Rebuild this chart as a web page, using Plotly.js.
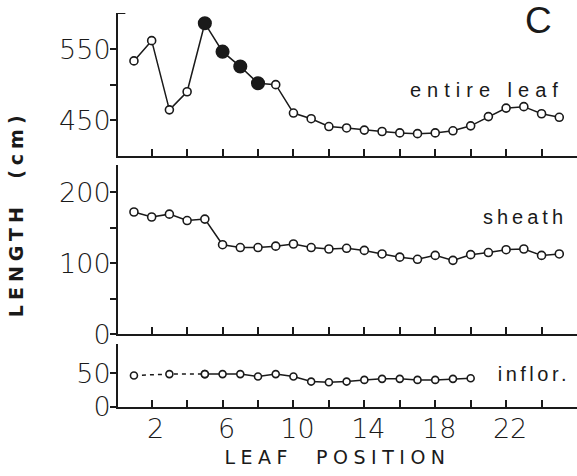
<!DOCTYPE html>
<html>
<head>
<meta charset="utf-8">
<script src="https://cdn.plot.ly/plotly-3.0.1.min.js"></script>
<style>
html,body{margin:0;padding:0;background:#fff;}
#chart{width:577px;height:476px;}
</style>
</head>
<body>
<div id="chart"></div>
<script>
// ---- data ----
const leafPosition = [1,2,3,4,5,6,7,8,9,10,11,12,13,14,15,16,17,18,19,20,21,22,23,24,25];
const entireLeaf = [533.5,562,464.5,490,586.5,546.5,525.5,502,500,460,452,441,439,436,434,432,431,432,435,442,455,467,469,459,454];
const filledPositions = [5,6,7,8];
const sheath = [172,165,169,160,162,126,122,122,124,127,122,120,121,118,113,108.5,105.5,111,104,112,115,119,120,111,113];
const inflorPosition = [1,3,5,6,7,8,9,10,11,12,13,14,15,16,17,18,19,20];
const inflor = [46.5,48.5,48.5,48.5,48.5,45,48.5,45,37.5,36.5,37.5,40,41.5,41.5,40,40,41.5,42.5];
const inflorDashedUntil = 5;
const xTickVals = [2,4,6,8,10,12,14,16,18,20,22,24];
const xTickText = ['2','','6','','10','','14','','18','','22',''];
const topTickVals = [450,500,550];
const topTickText = ['450','','550'];
const midTickVals = [0,50,100,150,200];
const midTickText = ['0','','100','','200'];
const botTickVals = [0,50];
const botTickText = ['0','50'];
const panelLabels = ['entire leaf','sheath','inflor.'];
const panelLetter = 'C';
const yTitle = 'LENGTH  (cm)';
const xTitle = 'LEAF  POSITION';

// ---- styling ----
const ink = '#1a1a1a';
const openMarker = {symbol:'circle', size:8, color:'#fff', opacity:1, line:{color:ink, width:1.6}};
const leafColors = leafPosition.map(p => filledPositions.includes(p) ? ink : '#fff');
const leafSizes = leafPosition.map(p => filledPositions.includes(p) ? 12.5 : 8);

const dashIdx = inflorPosition.indexOf(inflorDashedUntil);

const traces = [
  {x: leafPosition, y: entireLeaf, xaxis:'x3', yaxis:'y', mode:'lines+markers',
   line:{color:ink, width:1.5},
   marker:{symbol:'circle', size:leafSizes, color:leafColors, opacity:1, line:{color:ink, width:1.6}}},
  {x: leafPosition, y: sheath, xaxis:'x2', yaxis:'y2', mode:'lines+markers',
   line:{color:ink, width:1.5}, marker:openMarker},
  {x: inflorPosition.slice(0, dashIdx+1), y: inflor.slice(0, dashIdx+1), xaxis:'x', yaxis:'y3', mode:'lines+markers',
   line:{color:ink, width:1.5, dash:'4px,4px'}, marker:Object.assign({}, openMarker, {size:7})},
  {x: inflorPosition.slice(dashIdx), y: inflor.slice(dashIdx), xaxis:'x', yaxis:'y3', mode:'lines+markers',
   line:{color:ink, width:1.5}, marker:Object.assign({}, openMarker, {size:7})}
];

const tickFont = {family:'DejaVu Sans', size:27, color:ink, weight:300};
const xBase = {range:[0.1,26], tickvals:xTickVals, ticks:'inside', ticklen:7, tickwidth:2, tickcolor:ink,
  showline:true, linecolor:ink, linewidth:2, showgrid:false, zeroline:false, fixedrange:true};
const yBase = {ticks:'outside', ticklen:6, tickwidth:2, tickcolor:ink, showline:true, linecolor:ink, linewidth:2,
  showgrid:false, zeroline:false, tickfont:tickFont, fixedrange:true};

const labelFont = {family:'Liberation Sans', size:20, color:ink};

const layout = {
  width:577, height:476, showlegend:false,
  paper_bgcolor:'#fff', plot_bgcolor:'rgba(0,0,0,0)',
  margin:{l:118, r:0, t:13, b:69},
  xaxis: Object.assign({}, xBase, {anchor:'y3', domain:[0,1], ticktext:xTickText, tickfont:tickFont, showticklabels:true}),
  xaxis2: Object.assign({}, xBase, {anchor:'y2', domain:[0,1], showticklabels:false}),
  xaxis3: Object.assign({}, xBase, {anchor:'y', domain:[0,1], showticklabels:false}),
  yaxis: Object.assign({}, yBase, {domain:[0.638,1], range:[400,601], tickvals:topTickVals, ticktext:topTickText}),
  yaxis2: Object.assign({}, yBase, {domain:[0.1845,0.614], range:[0,238], tickvals:midTickVals, ticktext:midTickText}),
  yaxis3: Object.assign({}, yBase, {domain:[0,0.16], range:[0,93], tickvals:botTickVals, ticktext:botTickText}),
  shapes:[
    {type:'line', xref:'paper', yref:'y', x0:0, x1:0.016, y0:601, y1:601, line:{color:ink, width:2}}
  ],
  annotations:[
    {text:panelLabels[0], xref:'paper', yref:'paper', x:0.804, y:0.805, xanchor:'center', yanchor:'middle', showarrow:false, font:labelFont},
    {text:panelLabels[1], xref:'paper', yref:'paper', x:0.887, y:0.482, xanchor:'center', yanchor:'middle', showarrow:false, font:labelFont},
    {text:panelLabels[2], xref:'paper', yref:'paper', x:0.907, y:0.084, xanchor:'center', yanchor:'middle', showarrow:false, font:labelFont},
    {text:panelLetter, xref:'paper', yref:'paper', x:0.917, y:0.98, xanchor:'center', yanchor:'middle', showarrow:false,
     font:{family:'Liberation Sans', size:37, color:ink}},
    {text:yTitle, xref:'paper', yref:'paper', x:-0.223, y:0.491, xanchor:'center', yanchor:'middle', textangle:-90, showarrow:false,
     font:{family:'DejaVu Sans', size:19, color:ink, weight:'bold'}},
    {text:xTitle, xref:'paper', yref:'paper', x:0.478, y:-0.128, xanchor:'center', yanchor:'middle', showarrow:false,
     font:{family:'DejaVu Sans', size:19, color:ink}}
  ]
};

Plotly.newPlot('chart', traces, layout, {displayModeBar:false, staticPlot:true}).then(gd => {
  const spacing = ['6px','4px','3.5px', '0px', '5px', '5.5px'];
  gd.querySelectorAll('.annotation-text').forEach((el, i) => {
    if (spacing[i]) el.style.letterSpacing = spacing[i];
  });
  // pull tick labels in against the ticks, as in the reference
  const nudge = (sel, dx, dy) => gd.querySelectorAll(sel).forEach(el => {
    const t = el.getAttribute('transform') || '';
    el.setAttribute('transform', 'translate(' + dx + ',' + dy + ') ' + t);
  });
  nudge('.ytick text', 6, 0);
  nudge('.y2tick text', 6, 0);
  nudge('.y3tick text', 6, 0);
  nudge('.xtick text', 4, -3);
});
</script>
</body>
</html>
